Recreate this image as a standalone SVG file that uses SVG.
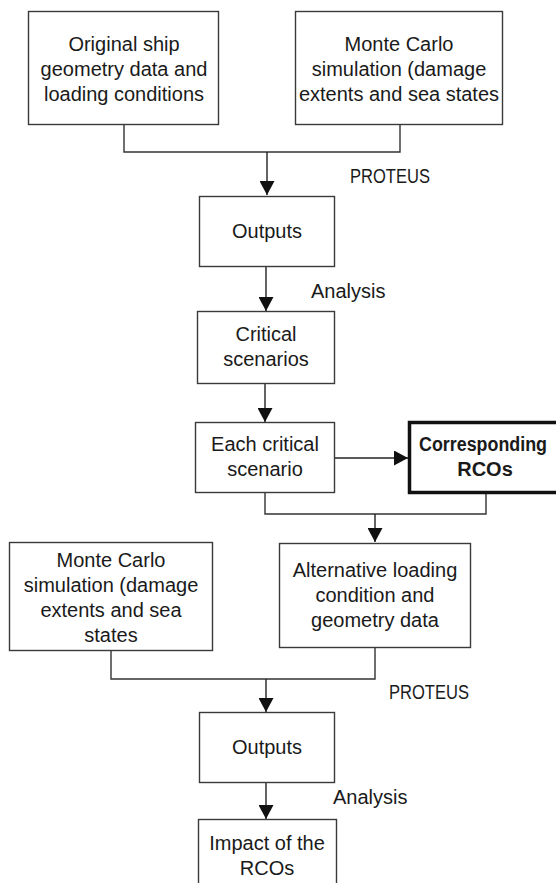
<svg xmlns="http://www.w3.org/2000/svg" width="556" height="883" viewBox="0 0 556 883">
<defs>
<style>
.box{fill:#fff;stroke:#3a3a3a;stroke-width:1.4}
.thick{fill:#fff;stroke:#111;stroke-width:3.5}
.t{font-family:"Liberation Sans",Arial,sans-serif;font-size:20px;fill:#1a1a1a;text-anchor:middle}
.l{font-family:"Liberation Sans",Arial,sans-serif;font-size:20px;fill:#1a1a1a}
.b{font-weight:bold}
.c{fill:none;stroke:#333;stroke-width:1.4}
.a{fill:none;stroke:#222;stroke-width:1.4;marker-end:url(#arr)}
</style>
<marker id="arr" markerUnits="userSpaceOnUse" markerWidth="15" markerHeight="15" refX="14" refY="7.5" orient="auto" viewBox="0 0 15 15">
<path d="M0,0 L14,7.5 L0,15 z" fill="#111"/>
</marker>
</defs>
<rect width="556" height="883" fill="#fff"/>
<g id="connectors">
<path class="c" d="M124 124 V152 H400 V124"/>
<path class="a" d="M267 152 V195"/>
<path class="a" d="M266 266 V311"/>
<path class="a" d="M265 383 V422"/>
<path class="a" d="M334 458 H408"/>
<path class="c" d="M265 492 V514 H486 V493"/>
<path class="a" d="M375 514 V542"/>
<path class="c" d="M111 651 V679 H375 V647"/>
<path class="a" d="M266 679 V712"/>
<path class="a" d="M266 782 V819"/>
</g>
<g id="n1">
<rect class="box" x="28.5" y="11.5" width="190" height="113"/>
<text class="t" x="124" y="51">Original ship</text>
<text class="t" x="124" y="76">geometry data and</text>
<text class="t" x="124" y="101">loading conditions</text>
</g>
<g id="n2">
<rect class="box" x="295.5" y="11.5" width="207" height="113"/>
<text class="t" x="399" y="51">Monte Carlo</text>
<text class="t" x="399" y="76">simulation (damage</text>
<text class="t" x="399" y="101">extents and sea states</text>
</g>
<text class="l" x="350" y="183" textLength="80" lengthAdjust="spacingAndGlyphs">PROTEUS</text>
<g id="n3">
<rect class="box" x="199.5" y="196.5" width="135" height="70"/>
<text class="t" x="267" y="238">Outputs</text>
</g>
<text class="l" x="311" y="298">Analysis</text>
<g id="n4">
<rect class="box" x="197.5" y="311.5" width="137" height="72"/>
<text class="t" x="266" y="341">Critical</text>
<text class="t" x="266" y="366">scenarios</text>
</g>
<g id="n5">
<rect class="box" x="195.5" y="422.5" width="139" height="70"/>
<text class="t" x="265" y="451">Each critical</text>
<text class="t" x="265" y="476">scenario</text>
</g>
<g id="n6">
<rect class="thick" x="409.5" y="422.5" width="156" height="70"/>
<text class="t b" x="483" y="451" textLength="128" lengthAdjust="spacingAndGlyphs">Corresponding</text>
<text class="t b" x="485" y="476">RCOs</text>
</g>
<g id="n7">
<rect class="box" x="9.5" y="542.5" width="203" height="108"/>
<text class="t" x="111" y="567">Monte Carlo</text>
<text class="t" x="111" y="592">simulation (damage</text>
<text class="t" x="111" y="617">extents and sea</text>
<text class="t" x="111" y="642">states</text>
</g>
<g id="n8">
<rect class="box" x="279.5" y="543.5" width="191" height="104"/>
<text class="t" x="375" y="577">Alternative loading</text>
<text class="t" x="375" y="602">condition and</text>
<text class="t" x="375" y="627">geometry data</text>
</g>
<text class="l" x="389" y="699" textLength="80" lengthAdjust="spacingAndGlyphs">PROTEUS</text>
<g id="n9">
<rect class="box" x="199.5" y="712.5" width="135" height="70"/>
<text class="t" x="267" y="754">Outputs</text>
</g>
<text class="l" x="333" y="804">Analysis</text>
<g id="n10">
<rect class="box" x="198.5" y="819.5" width="138" height="80"/>
<text class="t" x="267" y="850">Impact of the</text>
<text class="t" x="267" y="875">RCOs</text>
</g>
</svg>
